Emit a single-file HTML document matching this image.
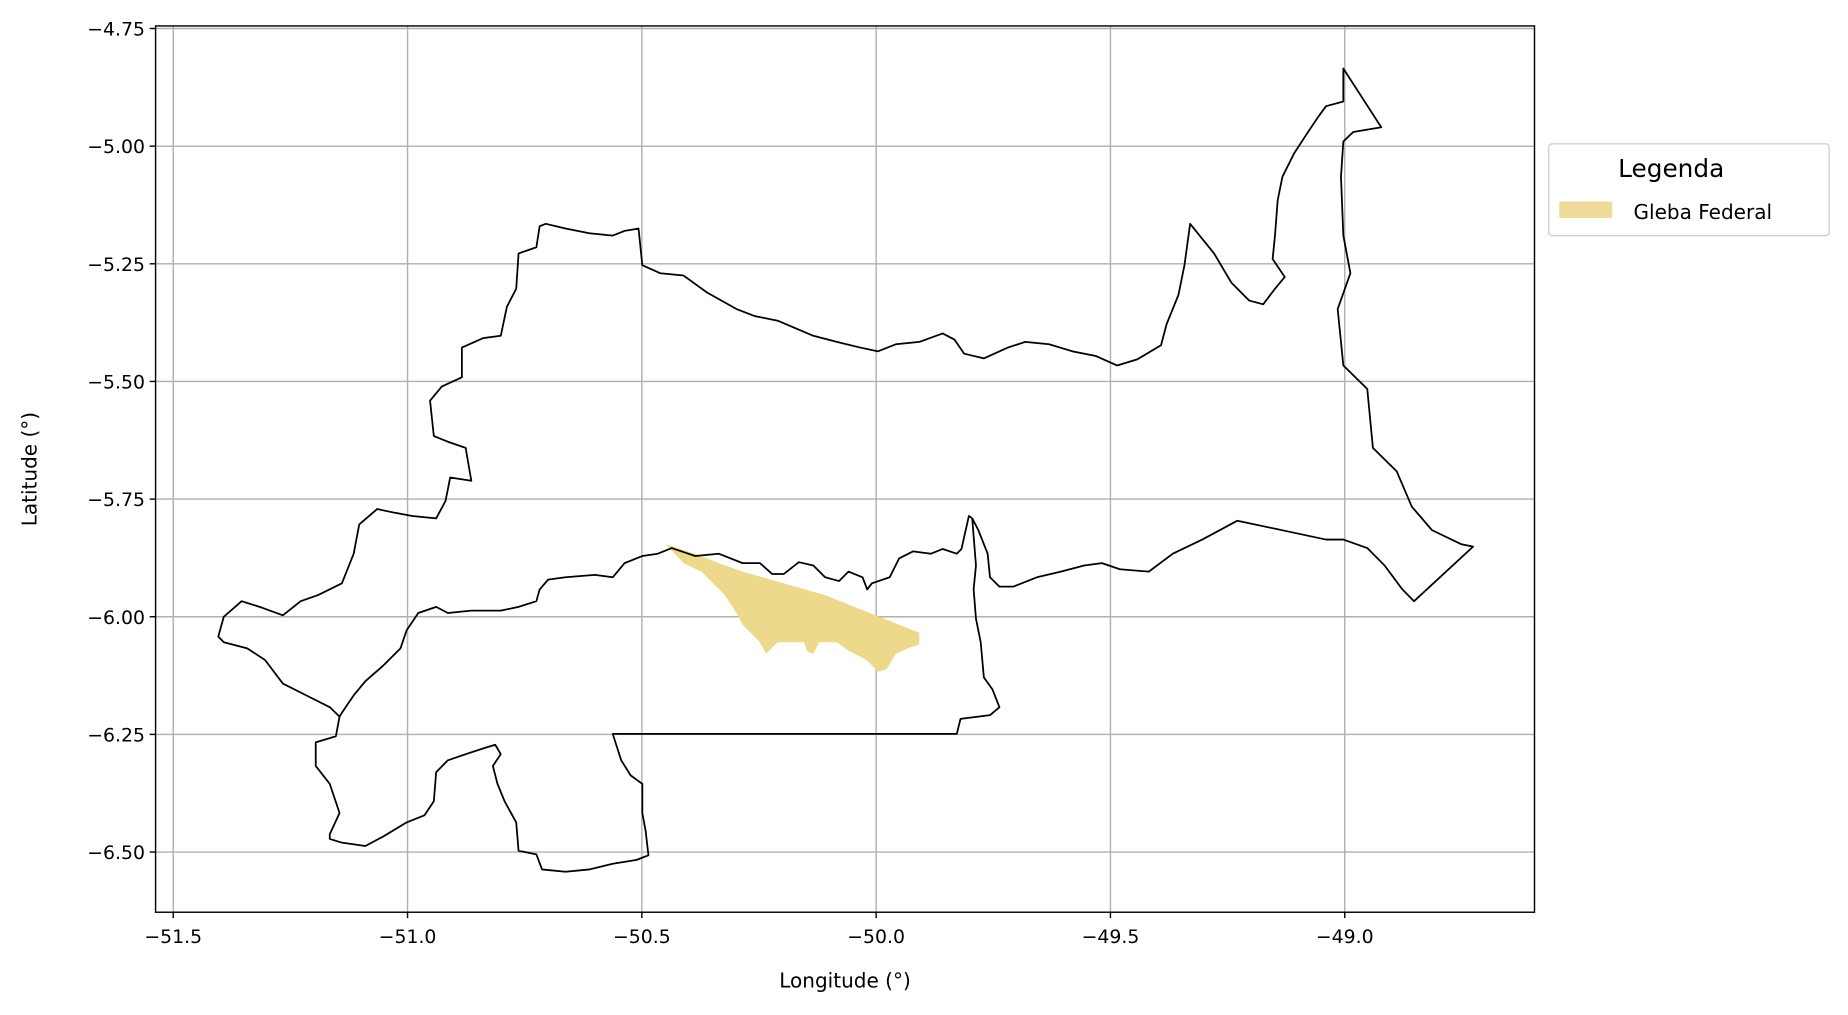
<!DOCTYPE html>
<html>
<head>
<meta charset="utf-8">
<style>
html,body{margin:0;padding:0;background:#fff;}
svg{display:block;}
text{font-family:"DejaVu Sans","Liberation Sans",sans-serif;fill:#000;}
</style>
</head>
<body>
<svg id="chart" width="1848" height="1015" viewBox="0 0 1568 861.2" xmlns="http://www.w3.org/2000/svg">
<g id="grid"></g>
<g id="shapes"></g>
<rect x="132" y="22" width="1170" height="752" fill="none" stroke="#000" stroke-width="1.2"/>
<g id="ticks"></g>
<text x="717" y="838" font-size="17" text-anchor="middle">Longitude (°)</text>
<text transform="translate(31,398) rotate(-90)" font-size="17" text-anchor="middle">Latitude (°)</text>
<g>
<rect x="1314" y="122" width="238" height="78" rx="3" fill="#fff" stroke="#d0d0d0" stroke-width="1.2"/>
<text x="1418" y="150" font-size="21" text-anchor="middle">Legenda</text>
<rect x="1323" y="171" width="45" height="14" fill="#efdc9a"/>
<text x="1386" y="186" font-size="17">Gleba Federal</text>
</g>
</svg>
<script>
const xTicks = [-51.5,-51.0,-50.5,-50.0,-49.5,-49.0];
const xTickLabels = ["−51.5","−51.0","−50.5","−50.0","−49.5","−49.0"];
const yTicks = [-4.75,-5.0,-5.25,-5.5,-5.75,-6.0,-6.25,-6.5];
const yTickLabels = ["−4.75","−5.00","−5.25","−5.50","−5.75","−6.00","−6.25","−6.50"];

const outerLon = [-51.145,-51.166,-51.216,-51.266,-51.304,-51.342,-51.392,-51.404,-51.392,-51.354,-51.316,-51.266,-51.228,-51.191,-51.140,-51.115,-51.103,-51.065,-51.027,-50.990,-50.939,-50.919,-50.909,-50.864,-50.876,-50.914,-50.944,-50.952,-50.927,-50.884,-50.884,-50.839,-50.801,-50.788,-50.768,-50.763,-50.725,-50.718,-50.705,-50.663,-50.612,-50.562,-50.537,-50.507,-50.499,-50.461,-50.411,-50.361,-50.298,-50.260,-50.210,-50.134,-50.084,-50.034,-49.996,-49.958,-49.908,-49.858,-49.833,-49.812,-49.770,-49.719,-49.682,-49.631,-49.581,-49.531,-49.486,-49.443,-49.392,-49.380,-49.355,-49.342,-49.330,-49.279,-49.242,-49.204,-49.174,-49.149,-49.128,-49.154,-49.149,-49.143,-49.133,-49.108,-49.083,-49.058,-49.040,-49.003,-49.003,-48.922,-48.952,-48.982,-49.003,-49.008,-49.003,-48.988,-49.015,-49.008,-49.003,-48.952,-48.940,-48.889,-48.857,-48.814,-48.751,-48.726,-48.852,-48.877,-48.915,-48.952,-49.003,-49.040,-49.229,-49.304,-49.367,-49.418,-49.480,-49.518,-49.556,-49.606,-49.657,-49.707,-49.737,-49.757,-49.762,-49.782,-49.795];
const outerLat = [-6.212,-6.192,-6.167,-6.142,-6.092,-6.067,-6.054,-6.042,-6.000,-5.967,-5.979,-5.997,-5.967,-5.954,-5.929,-5.866,-5.804,-5.771,-5.779,-5.786,-5.791,-5.754,-5.704,-5.711,-5.641,-5.628,-5.616,-5.541,-5.511,-5.491,-5.428,-5.408,-5.403,-5.341,-5.303,-5.228,-5.215,-5.170,-5.165,-5.175,-5.185,-5.190,-5.180,-5.175,-5.253,-5.270,-5.275,-5.311,-5.346,-5.361,-5.371,-5.403,-5.416,-5.428,-5.436,-5.421,-5.416,-5.398,-5.411,-5.441,-5.451,-5.428,-5.416,-5.421,-5.436,-5.446,-5.466,-5.453,-5.423,-5.378,-5.316,-5.253,-5.165,-5.228,-5.290,-5.328,-5.336,-5.303,-5.278,-5.240,-5.190,-5.115,-5.065,-5.015,-4.977,-4.940,-4.915,-4.905,-4.835,-4.960,-4.965,-4.970,-4.990,-5.065,-5.190,-5.270,-5.346,-5.416,-5.466,-5.516,-5.641,-5.691,-5.766,-5.816,-5.846,-5.851,-5.967,-5.942,-5.891,-5.854,-5.836,-5.836,-5.796,-5.836,-5.866,-5.904,-5.899,-5.886,-5.891,-5.904,-5.916,-5.936,-5.936,-5.916,-5.866,-5.816,-5.791];

const midLon = [-49.795,-49.802,-49.818,-49.828,-49.858,-49.883,-49.921,-49.951,-49.971,-50.009,-50.019,-50.029,-50.059,-50.079,-50.109,-50.134,-50.165,-50.197,-50.222,-50.248,-50.285,-50.336,-50.386,-50.436,-50.466,-50.499,-50.537,-50.562,-50.600,-50.663,-50.700,-50.718,-50.725,-50.763,-50.801,-50.864,-50.914,-50.939,-50.977,-51.002,-51.015,-51.052,-51.090,-51.115,-51.140,-51.145];
const midLat = [-5.791,-5.786,-5.856,-5.866,-5.856,-5.866,-5.861,-5.876,-5.916,-5.929,-5.942,-5.916,-5.904,-5.924,-5.916,-5.891,-5.884,-5.909,-5.909,-5.886,-5.886,-5.866,-5.871,-5.854,-5.866,-5.871,-5.886,-5.916,-5.911,-5.916,-5.921,-5.942,-5.967,-5.979,-5.987,-5.987,-5.992,-5.979,-5.992,-6.029,-6.067,-6.104,-6.137,-6.167,-6.204,-6.212];

const southLon = [-51.145,-51.153,-51.196,-51.196,-51.166,-51.145,-51.166,-51.166,-51.140,-51.090,-51.052,-51.002,-50.964,-50.944,-50.939,-50.914,-50.876,-50.839,-50.813,-50.801,-50.818,-50.808,-50.793,-50.768,-50.763,-50.725,-50.713,-50.663,-50.612,-50.562,-50.512,-50.486,-50.492,-50.499,-50.499,-50.524,-50.544,-50.562,-49.828,-49.820,-49.757,-49.737,-49.752,-49.770,-49.777,-49.787,-49.792,-49.787,-49.795];
const southLat = [-6.212,-6.254,-6.267,-6.317,-6.355,-6.417,-6.462,-6.472,-6.480,-6.487,-6.467,-6.437,-6.422,-6.392,-6.330,-6.305,-6.292,-6.280,-6.272,-6.292,-6.317,-6.355,-6.392,-6.437,-6.497,-6.505,-6.537,-6.542,-6.537,-6.525,-6.517,-6.507,-6.455,-6.417,-6.355,-6.337,-6.305,-6.249,-6.249,-6.217,-6.209,-6.192,-6.154,-6.129,-6.054,-6.004,-5.942,-5.891,-5.791];

const glebaLon = [-50.449,-50.424,-50.386,-50.336,-50.285,-50.109,-49.908,-49.908,-49.933,-49.958,-49.978,-49.996,-50.021,-50.059,-50.084,-50.122,-50.134,-50.147,-50.154,-50.210,-50.235,-50.248,-50.285,-50.298,-50.323,-50.348,-50.373,-50.411];
const glebaLat = [-5.846,-5.854,-5.866,-5.886,-5.904,-5.954,-6.034,-6.059,-6.067,-6.079,-6.112,-6.117,-6.092,-6.072,-6.054,-6.054,-6.079,-6.074,-6.054,-6.054,-6.079,-6.054,-6.017,-5.992,-5.954,-5.929,-5.904,-5.886];

const NS = "http://www.w3.org/2000/svg";
const X0 = 132, X1 = 1302, Y0 = 22, Y1 = 774;
function xScale(lon){ return 147 + (lon + 51.5) * 397.6; }
function yScale(lat){ return 124 + (-5 - lat) * 399.3; }
function pathFrom(lons, lats, close){
  let d = "";
  for (let i = 0; i < lons.length; i++) {
    d += (i ? "L" : "M") + xScale(lons[i]).toFixed(1) + "," + yScale(lats[i]).toFixed(1);
  }
  return d + (close ? "Z" : "");
}
const grid = document.getElementById("grid");
const ticks = document.getElementById("ticks");
const shapes = document.getElementById("shapes");

xTicks.forEach((v, i) => {
  const x = xScale(v);
  const gl = document.createElementNS(NS, "line");
  gl.setAttribute("x1", x); gl.setAttribute("x2", x); gl.setAttribute("y1", Y0); gl.setAttribute("y2", Y1);
  gl.setAttribute("stroke", "#b0b0b0"); gl.setAttribute("stroke-width", "1.2");
  
  
  grid.appendChild(gl);
  const tk = document.createElementNS(NS, "line");
  tk.setAttribute("x1", x); tk.setAttribute("x2", x); tk.setAttribute("y1", Y1); tk.setAttribute("y2", Y1 + 5);
  tk.setAttribute("stroke", "#000"); tk.setAttribute("stroke-width", "1.2");
  
  
  ticks.appendChild(tk);
  const t = document.createElementNS(NS, "text");
  t.setAttribute("x", x); t.setAttribute("y", Y1 + 26);
  t.setAttribute("font-size", "16"); t.setAttribute("text-anchor", "middle");
  t.textContent = xTickLabels[i];
  
  
  ticks.appendChild(t);
});
yTicks.forEach((v, i) => {
  const y = yScale(v);
  const gl = document.createElementNS(NS, "line");
  gl.setAttribute("x1", X0); gl.setAttribute("x2", X1); gl.setAttribute("y1", y); gl.setAttribute("y2", y);
  gl.setAttribute("stroke", "#b0b0b0"); gl.setAttribute("stroke-width", "1.2");
  
  
  grid.appendChild(gl);
  const tk = document.createElementNS(NS, "line");
  tk.setAttribute("x1", X0 - 5); tk.setAttribute("x2", X0); tk.setAttribute("y1", y); tk.setAttribute("y2", y);
  tk.setAttribute("stroke", "#000"); tk.setAttribute("stroke-width", "1.2");
  
  
  ticks.appendChild(tk);
  const t = document.createElementNS(NS, "text");
  t.setAttribute("x", X0 - 9); t.setAttribute("y", y + 6);
  t.setAttribute("font-size", "16"); t.setAttribute("text-anchor", "end");
  t.textContent = yTickLabels[i];
  
  
  ticks.appendChild(t);
});

const gleba = document.createElementNS(NS, "path");
gleba.setAttribute("d", pathFrom(glebaLon, glebaLat, true));
gleba.setAttribute("fill", "#ecd98b");


shapes.appendChild(gleba);

const boundary = document.createElementNS(NS, "path");
boundary.setAttribute("d", pathFrom(outerLon, outerLat, false) + pathFrom(midLon, midLat, false) + pathFrom(southLon, southLat, false));
boundary.setAttribute("fill", "none");
boundary.setAttribute("stroke", "#000");
boundary.setAttribute("stroke-width", "1.5");
boundary.setAttribute("stroke-linejoin", "round");


shapes.appendChild(boundary);
</script>
</body>
</html>
